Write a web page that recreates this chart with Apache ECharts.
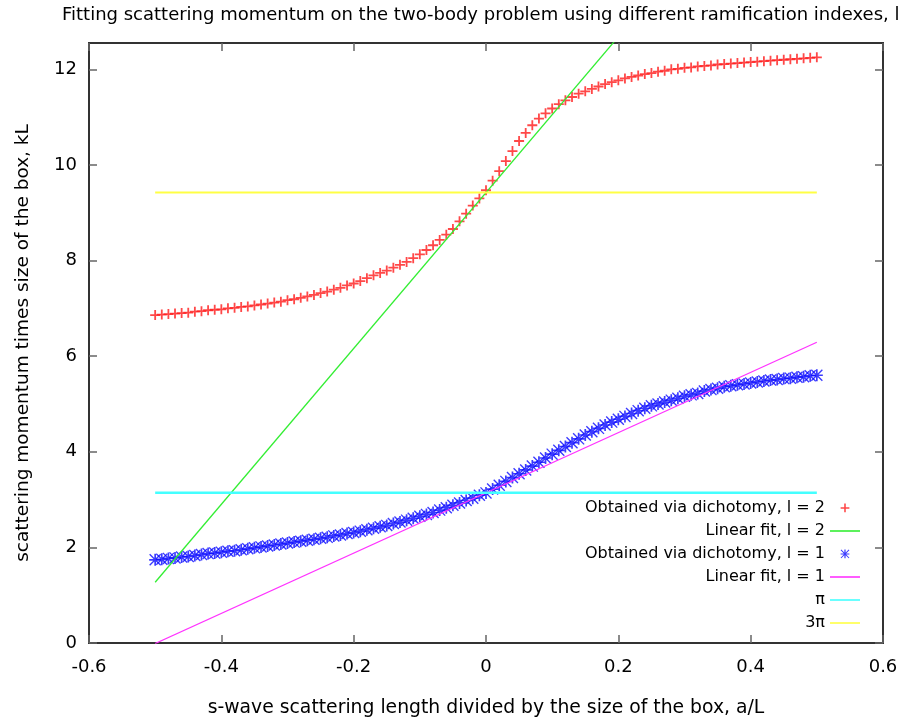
<!DOCTYPE html>
<html>
<head>
<meta charset="utf-8">
<script src="https://cdn.jsdelivr.net/npm/echarts@6/dist/echarts.min.js"></script>
<style>html,body{margin:0;padding:0;background:#fff;}#c{width:917px;height:727px;}</style>
</head>
<body>
<div id="c"></div>
<script>
const titleText = "Fitting scattering momentum on the two-body problem using different ramification indexes, l";
const xAxisTitle = "s-wave scattering length divided by the size of the box, a/L";
const yAxisTitle = "scattering momentum times size of the box, kL";
const seriesNames = ["Obtained via dichotomy, l = 2", "Linear fit, l = 2", "Obtained via dichotomy, l = 1", "Linear fit, l = 1", "\u03c0", "3\u03c0"];

const aOverL = [-0.50,-0.49,-0.48,-0.47,-0.46,-0.45,-0.44,-0.43,-0.42,-0.41,
  -0.40,-0.39,-0.38,-0.37,-0.36,-0.35,-0.34,-0.33,-0.32,-0.31,
  -0.30,-0.29,-0.28,-0.27,-0.26,-0.25,-0.24,-0.23,-0.22,-0.21,
  -0.20,-0.19,-0.18,-0.17,-0.16,-0.15,-0.14,-0.13,-0.12,-0.11,
  -0.10,-0.09,-0.08,-0.07,-0.06,-0.05,-0.04,-0.03,-0.02,-0.01,
  0.00,0.01,0.02,0.03,0.04,0.05,0.06,0.07,0.08,0.09,
  0.10,0.11,0.12,0.13,0.14,0.15,0.16,0.17,0.18,0.19,
  0.20,0.21,0.22,0.23,0.24,0.25,0.26,0.27,0.28,0.29,
  0.30,0.31,0.32,0.33,0.34,0.35,0.36,0.37,0.38,0.39,
  0.40,0.41,0.42,0.43,0.44,0.45,0.46,0.47,0.48,0.49,0.50];

const kL_l2 = [6.86,6.87,6.88,6.89,6.90,6.91,6.93,6.94,6.96,6.97,
  6.98,7.00,7.01,7.03,7.04,7.06,7.08,7.10,7.12,7.14,
  7.17,7.19,7.22,7.25,7.28,7.32,7.35,7.39,7.43,7.48,
  7.52,7.57,7.63,7.69,7.74,7.79,7.85,7.91,7.97,8.05,
  8.13,8.22,8.32,8.43,8.54,8.66,8.82,8.98,9.15,9.30,
  9.47,9.67,9.87,10.08,10.29,10.50,10.67,10.83,10.97,11.08,
  11.18,11.27,11.35,11.42,11.49,11.54,11.59,11.64,11.69,11.73,
  11.77,11.81,11.84,11.87,11.90,11.92,11.95,11.97,12.00,12.01,
  12.03,12.04,12.06,12.07,12.08,12.10,12.11,12.12,12.13,12.14,
  12.15,12.16,12.17,12.18,12.19,12.20,12.21,12.22,12.23,12.24,12.25];

const kL_l1 = [1.74,1.75,1.77,1.78,1.80,1.81,1.83,1.85,1.87,1.88,
  1.90,1.92,1.93,1.95,1.97,1.99,2.01,2.03,2.05,2.07,
  2.09,2.11,2.13,2.15,2.17,2.19,2.21,2.24,2.26,2.29,
  2.31,2.34,2.37,2.40,2.43,2.46,2.50,2.53,2.57,2.61,
  2.65,2.69,2.73,2.78,2.83,2.88,2.93,2.98,3.03,3.09,
  3.14,3.22,3.30,3.38,3.46,3.54,3.62,3.70,3.78,3.87,
  3.95,4.03,4.11,4.19,4.27,4.35,4.42,4.49,4.56,4.62,
  4.68,4.74,4.80,4.86,4.91,4.96,5.00,5.04,5.08,5.12,
  5.16,5.19,5.22,5.27,5.30,5.33,5.36,5.38,5.40,5.42,
  5.44,5.46,5.48,5.50,5.51,5.53,5.54,5.56,5.57,5.59,5.60];

// straight lines: endpoints over the data range [x, y]
const fitL2 = [[-0.5, 1.27], [0.5, 17.57]];
const fitL1 = [[-0.5, -0.01], [0.5, 6.29]];
const piLine = [[-0.5, 3.14159], [0.5, 3.14159]];
const threePiLine = [[-0.5, 9.42478], [0.5, 9.42478]];

const xTicks = [-0.6, -0.4, -0.2, 0, 0.2, 0.4, 0.6];
const yTicks = [0, 2, 4, 6, 8, 10, 12];

const pts2 = aOverL.map((x, i) => [x, kL_l2[i]]);
const pts1 = aOverL.map((x, i) => [x, kL_l1[i]]);

const plusSym = 'path://M0,4.1H10V5.9H0Z M4.1,0H5.9V10H4.1Z';
const starSym = 'path://M0,4.3H10V5.7H0Z M4.3,0H5.7V10H4.3Z M0,0.8L0.8,0L10,9.2L9.2,10Z M9.2,0L10,0.8L0.8,10L0,9.2Z';
// legend versions: same glyph inside a larger invisible box so it renders smaller
const plusIcon = 'path://M-3,-3h0.01v0.01h-0.01Z M13,13h0.01v0.01h-0.01Z M0,4.1H10V5.9H0Z M4.1,0H5.9V10H4.1Z';
const starIcon = 'path://M-3,-3h0.01v0.01h-0.01Z M13,13h0.01v0.01h-0.01Z M0,4.3H10V5.7H0Z M4.3,0H5.7V10H4.3Z M0,0.8L0.8,0L10,9.2L9.2,10Z M9.2,0L10,0.8L0.8,10L0,9.2Z';
const lineIcon = 'path://M0,0H30V1.6H0Z';

const FONT = 'DejaVu Sans';
const chart = echarts.init(document.getElementById('c'), null, {renderer: 'canvas'});
const tick = (vals) => ({show: true, inside: true, length: 8, lineStyle: {color: '#666', width: 1.5}, customValues: vals});

chart.setOption({
  animation: false,
  backgroundColor: '#fff',
  title: {
    text: titleText, left: 57, top: 1,
    textStyle: {fontFamily: FONT, fontSize: 18, fontWeight: 'normal', color: '#000'}
  },
  grid: {left: 89, right: 34, top: 43, bottom: 84, show: true, borderColor: '#333', borderWidth: 2, backgroundColor: 'transparent'},
  legend: {
    orient: 'vertical', right: 57, top: 500, align: 'right', padding: 0,
    itemWidth: 30, itemHeight: 14, itemGap: 7,
    textStyle: {fontFamily: FONT, fontSize: 16, color: '#000', lineHeight: 16},
    data: [
      {name: seriesNames[0], icon: plusIcon},
      {name: seriesNames[1], icon: lineIcon},
      {name: seriesNames[2], icon: starIcon},
      {name: seriesNames[3], icon: lineIcon},
      {name: seriesNames[4], icon: lineIcon},
      {name: seriesNames[5], icon: lineIcon}
    ]
  },
  xAxis: [{
    type: 'value', min: -0.6, max: 0.6, interval: 0.2,
    name: xAxisTitle, nameLocation: 'middle', nameGap: 56,
    nameTextStyle: {fontFamily: FONT, fontSize: 18.8, color: '#000'},
    axisLine: {show: false, onZero: false},
    axisTick: tick(xTicks),
    axisLabel: {fontFamily: FONT, fontSize: 18, color: '#000', margin: 15, customValues: xTicks},
    splitLine: {show: false}
  }, {
    type: 'value', position: 'top', min: -0.6, max: 0.6, interval: 0.2,
    axisLine: {show: false, onZero: false},
    axisTick: tick(xTicks),
    axisLabel: {show: false}, splitLine: {show: false}
  }],
  yAxis: [{
    type: 'value', min: 0, max: 12.55, interval: 2,
    name: yAxisTitle, nameLocation: 'middle', nameGap: 56,
    nameTextStyle: {fontFamily: FONT, fontSize: 18.5, color: '#000'},
    axisLine: {show: false, onZero: false},
    axisTick: tick(yTicks),
    axisLabel: {fontFamily: FONT, fontSize: 18, color: '#000', margin: 12, customValues: yTicks},
    splitLine: {show: false}
  }, {
    type: 'value', position: 'right', min: 0, max: 12.55, interval: 2,
    axisLine: {show: false, onZero: false},
    axisTick: tick(yTicks),
    axisLabel: {show: false}, splitLine: {show: false}
  }],
  series: [
    {name: seriesNames[0], type: 'scatter', data: pts2, symbol: plusSym, symbolSize: 10,
     itemStyle: {color: '#ff1a1a'}},
    {name: seriesNames[1], type: 'line', data: fitL2, symbol: 'none', clip: true,
     lineStyle: {color: '#33ee33', width: 1.3}, itemStyle: {color: '#33ee33'}},
    {name: seriesNames[2], type: 'scatter', data: pts1, symbol: starSym, symbolSize: 12,
     itemStyle: {color: '#0a0aff'}},
    {name: seriesNames[3], type: 'line', data: fitL1, symbol: 'none', clip: true,
     lineStyle: {color: '#ff33ff', width: 1.3}, itemStyle: {color: '#ff33ff'}},
    {name: seriesNames[4], type: 'line', data: piLine, symbol: 'none',
     lineStyle: {color: '#44ffff', width: 2.5}, itemStyle: {color: '#44ffff'}},
    {name: seriesNames[5], type: 'line', data: threePiLine, symbol: 'none',
     lineStyle: {color: '#ffff44', width: 2}, itemStyle: {color: '#ffff44'}}
  ]
});
</script>
</body>
</html>
